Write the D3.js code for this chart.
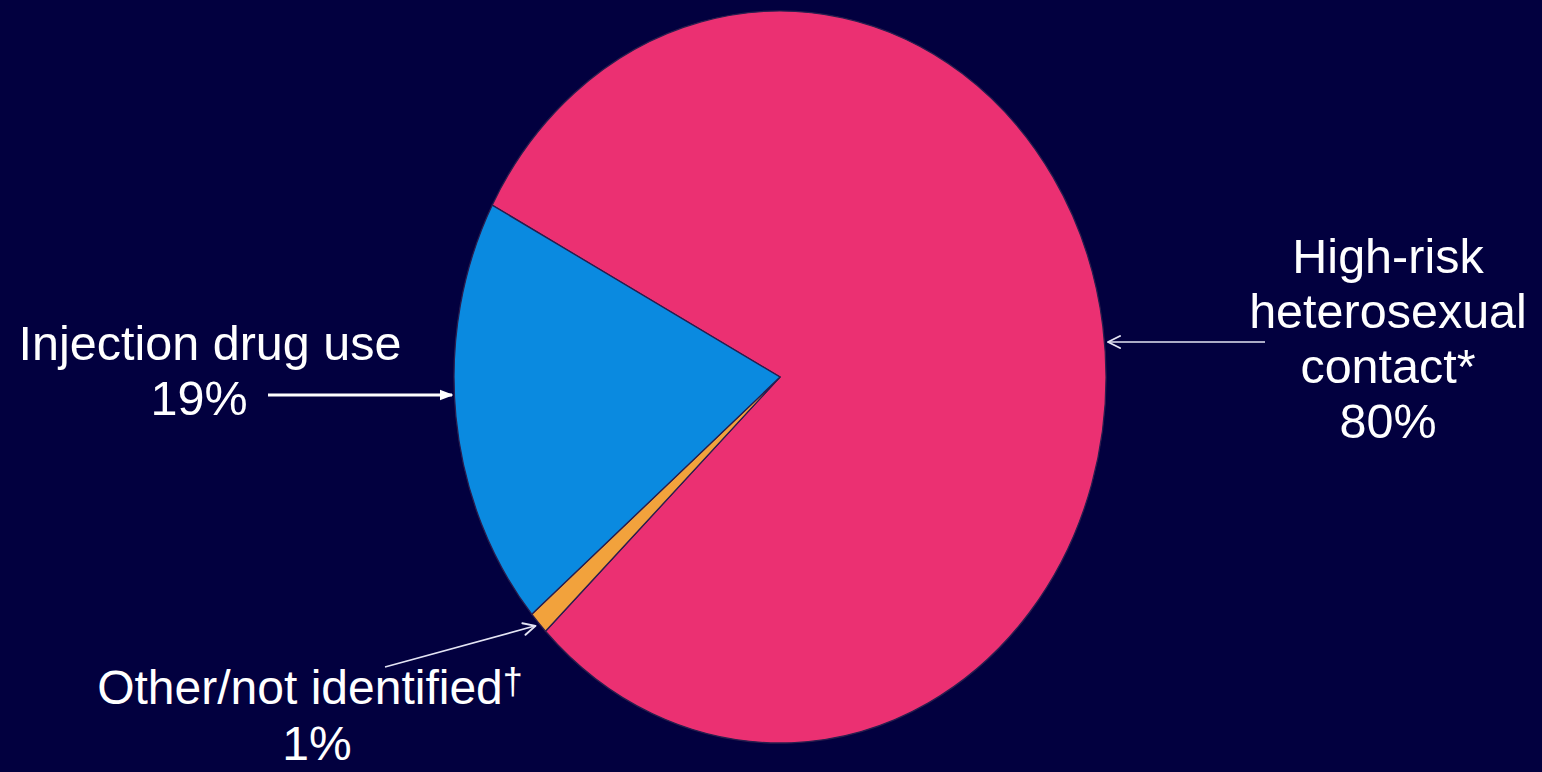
<!DOCTYPE html>
<html>
<head>
<meta charset="utf-8">
<script src="https://cdn.jsdelivr.net/npm/d3@7"></script>
<style>
  html, body { margin: 0; padding: 0; background: #02003f; }
  svg { display: block; }
  text { font-family: "Liberation Sans", Arial, sans-serif; fill: #ffffff; }
</style>
</head>
<body>
<svg id="chart" width="1542" height="772"></svg>
<script>
// Transmission categories, shares (%) and slice colours
const categories = ["High-risk heterosexual contact*", "Other/not identified†", "Injection drug use"];
const values = [80, 1, 19];
const colors = ["#eb3072", "#f2a23c", "#0a8ae0"];

// Label lines for each category
const labelLines = [
  ["High-risk", "heterosexual", "contact*", "80%"],
  ["Other/not identified", "1%"],
  ["Injection drug use", "19%"]
];

const W = 1542, H = 772;
const cx = 780, cy = 377;
const rx = 326, ry = 366;
const startDeg = -62;

const svg = d3.select("#chart");

svg.append("rect").attr("width", W).attr("height", H).attr("fill", "#02003f");

const defs = svg.append("defs");
defs.append("marker")
  .attr("id", "headSolid")
  .attr("viewBox", "0 0 10 10")
  .attr("refX", 9).attr("refY", 5)
  .attr("markerWidth", 4.2).attr("markerHeight", 4.2)
  .attr("markerUnits", "strokeWidth")
  .attr("orient", "auto")
  .append("path").attr("d", "M0,1 L10,5 L0,9 Z").attr("fill", "#ffffff");

defs.append("marker")
  .attr("id", "headOpen")
  .attr("viewBox", "0 0 12 12")
  .attr("refX", 11).attr("refY", 6)
  .attr("markerWidth", 9).attr("markerHeight", 9)
  .attr("markerUnits", "strokeWidth")
  .attr("orient", "auto")
  .append("path").attr("d", "M1,1 L11,6 L1,11")
  .attr("fill", "none").attr("stroke", "#e4e4f4").attr("stroke-width", 1.6)
  .attr("stroke-linecap", "round").attr("stroke-linejoin", "round");

// Pie slices, drawn on a circle of radius ry and stretched horizontally into an ellipse
const pie = d3.pie().sort(null)
  .startAngle(startDeg * Math.PI / 180)
  .endAngle((startDeg + 360) * Math.PI / 180);
const arcs = pie(values);
const arc = d3.arc().innerRadius(0).outerRadius(ry);

svg.append("g")
  .attr("transform", `translate(${cx},${cy}) scale(${rx / ry},1)`)
  .selectAll("path")
  .data(arcs)
  .join("path")
  .attr("d", arc)
  .attr("fill", (d, i) => colors[i])
  .attr("stroke", "#2a1d4e")
  .attr("stroke-width", 1.3)
  .attr("vector-effect", "non-scaling-stroke");

const fs = 48.5;

// Right label: high-risk heterosexual contact
const rightLabel = svg.append("text")
  .attr("text-anchor", "middle")
  .attr("font-size", fs);
labelLines[0].forEach((line, i) => {
  rightLabel.append("tspan").attr("x", 1388).attr("y", 273 + i * 55).text(line);
});

// Left label: injection drug use
svg.append("text")
  .attr("x", 210).attr("y", 360)
  .attr("text-anchor", "middle")
  .attr("font-size", fs)
  .text(labelLines[2][0]);
svg.append("text")
  .attr("x", 199).attr("y", 415)
  .attr("text-anchor", "middle")
  .attr("font-size", fs)
  .text(labelLines[2][1]);

// Bottom label: other / not identified
const bottomLabel = svg.append("text")
  .attr("x", 310).attr("y", 704)
  .attr("text-anchor", "middle")
  .attr("font-size", 48);
bottomLabel.append("tspan").text(labelLines[1][0]);
bottomLabel.append("tspan").attr("font-size", 36).attr("dy", -10).text("†");
svg.append("text")
  .attr("x", 317).attr("y", 760)
  .attr("text-anchor", "middle")
  .attr("font-size", 48)
  .text(labelLines[1][1]);

// Pointer arrows to the slices
const pointOnEdge = (deg) => {
  const a = deg * Math.PI / 180;
  return [cx + rx * Math.sin(a), cy - ry * Math.cos(a)];
};
const midDeg = (d) => ((d.startAngle + d.endAngle) / 2) * 180 / Math.PI;

// injection drug use arrow
svg.append("line")
  .attr("x1", 268).attr("y1", 395)
  .attr("x2", 452).attr("y2", 395)
  .attr("stroke", "#ffffff").attr("stroke-width", 3.2)
  .attr("marker-end", "url(#headSolid)");

// high-risk heterosexual arrow
svg.append("line")
  .attr("x1", 1265).attr("y1", 342)
  .attr("x2", 1108).attr("y2", 342)
  .attr("stroke", "#e4e4f4").attr("stroke-width", 1.6)
  .attr("marker-end", "url(#headOpen)");

// other / not identified arrow, ending at the small slice's outer edge
const [ox, oy] = pointOnEdge(midDeg(arcs[1]));
svg.append("line")
  .attr("x1", 385).attr("y1", 667)
  .attr("x2", ox - 3).attr("y2", oy + 3)
  .attr("stroke", "#e4e4f4").attr("stroke-width", 1.6)
  .attr("marker-end", "url(#headOpen)");
</script>
</body>
</html>
